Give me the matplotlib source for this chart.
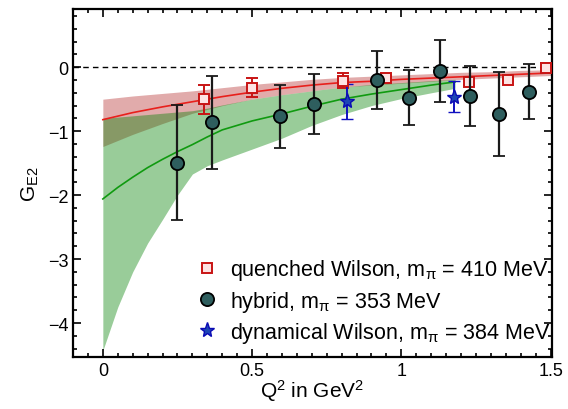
import numpy as np
import matplotlib
matplotlib.use('Agg')
import matplotlib.pyplot as plt
from matplotlib.ticker import MultipleLocator
from matplotlib.lines import Line2D

plt.rcParams['font.family'] = ['Liberation Sans', 'DejaVu Sans']
plt.rcParams['mathtext.fontset'] = 'custom'
plt.rcParams['mathtext.rm'] = 'Liberation Sans'
plt.rcParams['mathtext.it'] = 'Liberation Sans:italic'
plt.rcParams['mathtext.sf'] = 'Liberation Sans'

# quenched Wilson data
q_quen = [0.339, 0.499, 0.804, 0.948, 1.225, 1.356, 1.486]
g_quen = [-0.50, -0.32, -0.21, -0.17, -0.23, -0.20, -0.01]
e_quen = [0.225, 0.15, 0.12, 0.03, 0.05, 0.02, 0.08]

# hybrid data
q_hyb = [0.248, 0.365, 0.595, 0.706, 0.920, 1.026, 1.129, 1.229, 1.328, 1.426]
g_hyb = [-1.49, -0.86, -0.77, -0.57, -0.20, -0.48, -0.06, -0.45, -0.73, -0.385]
e_hyb = [0.90, 0.73, 0.49, 0.47, 0.45, 0.43, 0.48, 0.475, 0.66, 0.43]

# dynamical Wilson data
q_dyn = [0.817, 1.177]
g_dyn = [-0.535, -0.46]
e_dyn = [0.27, 0.24]

# quenched fit + band
q_fit_q = [0, 0.1, 0.2, 0.3, 0.4, 0.5, 0.6, 0.7, 0.8, 0.9, 1.0, 1.1, 1.2, 1.3, 1.4, 1.5]
fit_q = [-0.82, -0.71, -0.62, -0.54, -0.46, -0.39, -0.33, -0.28, -0.24, -0.22, -0.19, -0.17, -0.15, -0.13, -0.11, -0.09]
up_q = [-0.50, -0.45, -0.41, -0.37, -0.32, -0.27, -0.23, -0.19, -0.16, -0.14, -0.12, -0.10, -0.08, -0.07, -0.05, -0.04]
lo_q = [-1.24, -1.05, -0.88, -0.72, -0.60, -0.50, -0.43, -0.37, -0.31, -0.28, -0.25, -0.22, -0.19, -0.17, -0.15, -0.13]

# hybrid fit + band
q_fit_h = [0, 0.05, 0.1, 0.15, 0.2, 0.25, 0.3, 0.35, 0.4, 0.5, 0.6, 0.7, 0.8, 0.9, 1.0, 1.1, 1.18]
fit_h = [-2.06, -1.88, -1.72, -1.57, -1.44, -1.32, -1.21, -1.09, -0.98, -0.84, -0.73, -0.61, -0.50, -0.42, -0.35, -0.28, -0.23]
up_h = [-0.80, -0.78, -0.76, -0.74, -0.72, -0.70, -0.68, -0.64, -0.59, -0.50, -0.43, -0.37, -0.31, -0.27, -0.24, -0.21, -0.19]
lo_h = [-4.43, -3.75, -3.20, -2.75, -2.38, -2.00, -1.67, -1.54, -1.45, -1.28, -1.11, -0.91, -0.74, -0.60, -0.49, -0.40, -0.33]

labels = [r'quenched Wilson, m$_{\mathrm{\pi}}$ = 410 MeV', r'hybrid, m$_{\mathrm{\pi}}$ = 353 MeV',
          r'dynamical Wilson, m$_{\mathrm{\pi}}$ = 384 MeV']

fig = plt.figure(figsize=(5.68, 4.10), dpi=100)
ax = fig.add_axes([0.1285, 0.127, 0.8435, 0.8486])

ax.fill_between(q_fit_q, lo_q, up_q, color='#b22222', alpha=0.38, linewidth=0)
ax.fill_between(q_fit_h, lo_h, up_h, color='#008000', alpha=0.40, linewidth=0)
ax.plot(q_fit_q, fit_q, color='#e8201c', linewidth=1.2)
ax.plot(q_fit_h, fit_h, color='#109a10', linewidth=1.2)
ax.axhline(0, color='black', linestyle=(0, (4, 3)), linewidth=1.0)

ax.errorbar(q_quen, g_quen, yerr=e_quen, fmt='s', color='#c81414', mfc='#fde3e3', mec='#c81414',
            ms=7, mew=1.4, capsize=4, elinewidth=1.4, capthick=1.4, zorder=3)
ax.errorbar(q_hyb, g_hyb, yerr=e_hyb, fmt='o', color='#1a1a1a', mfc='#2e5e5e', mec='black',
            ms=9.5, mew=1.3, capsize=4.5, elinewidth=1.6, capthick=1.6, zorder=4)
ax.errorbar(q_dyn, g_dyn, yerr=e_dyn, fmt='*', color='#1010c0', mfc='#1e46b4', mec='#0a0ab4',
            ms=11, mew=1.0, capsize=4.5, elinewidth=1.4, capthick=1.4, zorder=3)

ax.set_xlim(-0.1, 1.505)
ax.set_ylim(-4.53, 0.91)
ax.xaxis.set_major_locator(MultipleLocator(0.5))
ax.xaxis.set_minor_locator(MultipleLocator(0.05))
ax.yaxis.set_major_locator(MultipleLocator(1))
ax.yaxis.set_minor_locator(MultipleLocator(0.2))
ax.set_xticks([0, 0.5, 1, 1.5])
ax.set_xticklabels(['0', '0.5', '1', '1.5'])
ax.tick_params(which='both', direction='in', top=True, right=True, labelsize=13, width=1.2)
ax.tick_params(which='major', length=6)
ax.tick_params(which='minor', length=3)
for s in ax.spines.values():
    s.set_linewidth(1.6)

ax.set_xlabel(r'Q$^2$ in GeV$^2$', fontsize=15, labelpad=-1)
ax.set_ylabel(r'G$_{\rm E2}$', fontsize=15, labelpad=5)

handles = [
    Line2D([], [], linestyle='none', marker='s', ms=7, mfc='#fde3e3', mec='#c81414', mew=1.4),
    Line2D([], [], linestyle='none', marker='o', ms=9.5, mfc='#2e5e5e', mec='black', mew=1.3),
    Line2D([], [], linestyle='none', marker='*', ms=11, mfc='#1e46b4', mec='#0a0ab4', mew=1.0),
]
ax.legend(handles, labels, loc='lower right', frameon=False, fontsize=15.5, handletextpad=0.55,
          labelspacing=0.3, borderaxespad=0.0, borderpad=0.2, handlelength=1.0,
          bbox_to_anchor=(1.006, 0.022))

plt.savefig('out.png', dpi=100)
